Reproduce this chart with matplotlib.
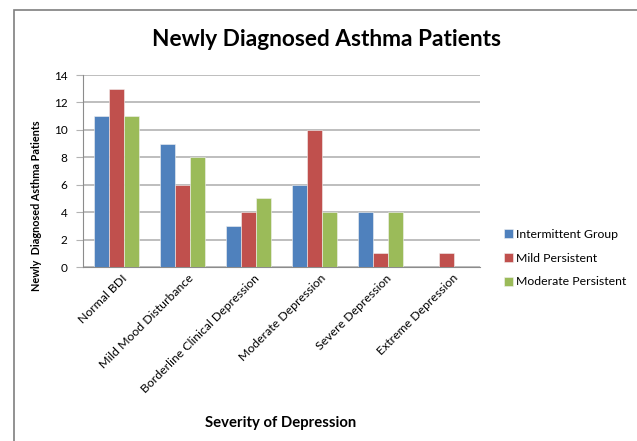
import numpy as np
import matplotlib
matplotlib.use("Agg")
import matplotlib.pyplot as plt
from matplotlib.patches import Rectangle

# data
categories = ['Normal BDI', 'Mild Mood Disturbance', 'Borderline Clinical Depression',
              'Moderate Depression', 'Severe Depression', 'Extreme Depression']
intermittent = [11, 9, 3, 6, 4, 0]
mild = [13, 6, 4, 10, 1, 1]
moderate = [11, 8, 5, 4, 4, 0]
series_names = ['Intermittent Group', 'Mild Persistent', 'Moderate Persistent']
colors = ['#4F81BD', '#C0504D', '#9BBB59']

plt.rcParams['font.family'] = ['Lato', 'DejaVu Sans']

fig = plt.figure(figsize=(6.37, 4.41), dpi=100)
ax = fig.add_axes([83/637, 1 - 267/441, (480 - 83)/637, (267 - 75)/441])

x = np.arange(len(categories))
w = 0.227
for i, (vals, name, c) in enumerate(zip([intermittent, mild, moderate], series_names, colors)):
    ax.bar(x + (i - 1) * w, vals, w, color=c, label=name, edgecolor='#f2f2f2', linewidth=0.4, zorder=3)

ax.set_xlim(-0.5, len(categories) - 0.5)
ax.set_ylim(0, 14)
ax.set_yticks(range(0, 15, 2))
ax.yaxis.grid(True, color='#b3b3b3', linewidth=1.2, zorder=0)
ax.tick_params(axis='y', length=5, color='#b3b3b3', labelsize=8.5, pad=6)
ax.tick_params(axis='x', length=0, labelsize=8.8, pad=4)
ax.set_xticks(x + 0.08)
ax.set_xticklabels(categories, rotation=45, ha='right', rotation_mode='anchor')
for s in ['top', 'right']:
    ax.spines[s].set_visible(False)
ax.spines['left'].set_color('#8c8c8c')
ax.spines['bottom'].set_color('#8c8c8c')

fig.text(326/637, 1 - 40/441, 'Newly Diagnosed Asthma Patients', ha='center', va='center',
         fontsize=16.3, fontweight='bold')
fig.text(37/637, 1 - 206/441, 'Newly  Diagnosed Asthma Patients', rotation=90, ha='center',
         va='center', fontsize=7.8, fontweight='bold')
fig.text(281/637, 1 - 423/441, 'Severity of Depression', ha='center', va='center',
         fontsize=10.7, fontweight='bold')

ax.legend(loc='center left', bbox_to_anchor=(499/637, 1 - 258/441), bbox_transform=fig.transFigure,
          frameon=False, fontsize=8.8, handlelength=0.75, handleheight=0.75, handletextpad=0.25,
          labelspacing=1.05, borderaxespad=0)

# outer chart border
fig.patches.append(Rectangle((14/637, -0.05), 1.0, 1 - 10/441 + 0.05, transform=fig.transFigure,
                             fill=False, edgecolor='#7f7f7f', linewidth=1.2))

fig.savefig('out.png', dpi=100)
